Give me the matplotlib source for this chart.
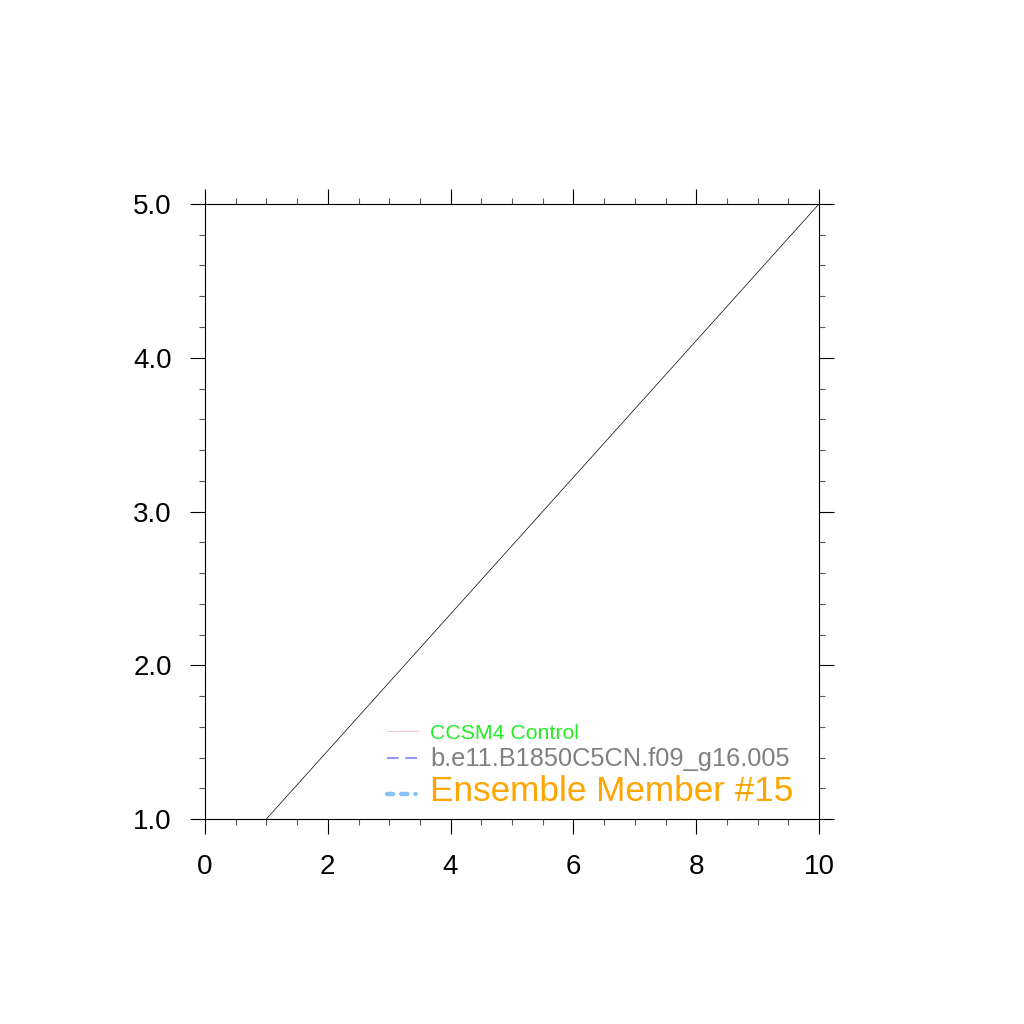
import matplotlib
matplotlib.use("Agg")
import matplotlib.pyplot as plt
from matplotlib.lines import Line2D
from matplotlib.ticker import MultipleLocator, FormatStrFormatter

plt.rcParams['font.family'] = ['Liberation Sans', 'DejaVu Sans']

# data
xs = [1, 10]
ys = [1.0, 5.0]

etiquetas = ["CCSM4 Control", "b.e11.B1850C5CN.f09_g16.005", "Ensemble Member #15"]
colores_linea = ["#ffb8c8", "#7f7fff", "#87c3f5"]
colores_texto = ["#22ee22", "#808080", "#ffa500"]
tamanos = [15.3, 18.3, 25.3]

fig = plt.figure(figsize=(10.24, 10.24), dpi=100)
ax = fig.add_axes([205/1024, 205/1024, 614/1024, 615/1024])

ax.plot(xs, ys, color="black", lw=0.5)

ax.set_xlim(0, 10)
ax.set_ylim(1.0, 5.0)
ax.xaxis.set_major_locator(MultipleLocator(2))
ax.xaxis.set_minor_locator(MultipleLocator(0.5))
ax.yaxis.set_major_locator(MultipleLocator(1))
ax.yaxis.set_minor_locator(MultipleLocator(0.2))
ax.yaxis.set_major_formatter(FormatStrFormatter("%.1f"))

for s in ax.spines.values():
    s.set_linewidth(0.8)

ax.tick_params(which="both", direction="out", top=True, right=True, width=0.8)
ax.tick_params(which="major", length=11, labelsize=20)
ax.tick_params(which="minor", length=4.5, color="#555555")
ax.tick_params(axis="x", which="major", pad=14.5)
ax.tick_params(axis="y", which="major", pad=13)

handles = [
    Line2D([], [], color=colores_linea[0], lw=0.6),
    Line2D([], [], color=colores_linea[1], lw=1.2, dashes=(7, 4)),
    Line2D([], [], color=colores_linea[2], lw=3.2, dashes=(1.4, 1.8, 1.4, 1.8, 0.05, 3),
           dash_capstyle="round"),
]
leg = ax.legend(handles, etiquetas, loc="lower left", bbox_to_anchor=(0.296, 0.018),
                frameon=False, fontsize=15, handlelength=1.5, handletextpad=0.6,
                labelspacing=0.2, borderpad=0, borderaxespad=0)
for t, c, z in zip(leg.get_texts(), colores_texto, tamanos):
    t.set_color(c)
    t.set_fontsize(z)

fig.savefig("out.png", dpi=100)
